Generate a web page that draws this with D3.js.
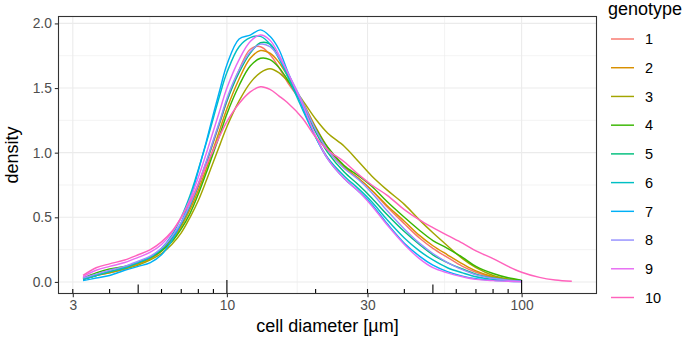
<!DOCTYPE html>
<html><head><meta charset="utf-8">
<script src="https://cdn.jsdelivr.net/npm/d3@7"></script>
<style>body{margin:0;background:#fff}svg{display:block;font-family:"Liberation Sans",Arial,sans-serif}</style>
</head><body><svg id="chart" width="685" height="340"></svg>
<script>
const genotypes = ["1","2","3","4","5","6","7","8","9","10"];
const colors = ["#F8766D","#D89000","#A3A500","#39B600","#00BF7D","#00BFC4","#00B0F6","#9590FF","#E76BF3","#FF62BC"];
const diameter = [3.25,3.6,4,4.5,5,5.5,6,6.5,7,7.5, 8,8.5,9,9.5,10,11,12,13,14,15, 16,18,20,22,25,28,31,35,40,45, 50,56,63,70,80,90,100,115,130,148];
const g1 = [0.02,0.05,0.07,0.10,0.14,0.18,0.24,0.33,0.44,0.58, 0.74,0.91,1.08,1.24,1.40,1.64,1.80,1.82,1.76,1.66, 1.55,1.38,1.18,1.02,0.88,0.80,0.71,0.58,0.45,0.34, 0.26,0.19,0.12,0.075,0.035,0.015,0.007,null,null,null];
const g2 = [0.02,0.05,0.08,0.11,0.14,0.18,0.24,0.32,0.43,0.56, 0.71,0.87,1.03,1.19,1.34,1.57,1.73,1.79,1.77,1.70, 1.60,1.40,1.20,1.04,0.89,0.80,0.71,0.59,0.47,0.36, 0.28,0.21,0.14,0.085,0.04,0.018,0.008,null,null,null];
const g3 = [0.02,0.05,0.07,0.10,0.13,0.17,0.22,0.29,0.38,0.50, 0.63,0.78,0.93,1.07,1.20,1.40,1.54,1.62,1.65,1.62, 1.56,1.41,1.26,1.15,1.05,0.93,0.82,0.71,0.60,0.48, 0.38,0.28,0.18,0.11,0.05,0.022,0.01,null,null,null];
const g4 = [0.03,0.07,0.10,0.12,0.15,0.19,0.24,0.31,0.41,0.53, 0.68,0.84,1.00,1.15,1.30,1.52,1.67,1.73,1.72,1.66, 1.57,1.38,1.19,1.04,0.90,0.82,0.74,0.62,0.50,0.40, 0.32,0.26,0.19,0.12,0.065,0.032,0.014,null,null,null];
const g5 = [0.02,0.05,0.08,0.11,0.15,0.19,0.25,0.34,0.45,0.59, 0.75,0.92,1.09,1.25,1.40,1.62,1.77,1.85,1.84,1.74, 1.62,1.38,1.16,1.00,0.85,0.75,0.65,0.52,0.39,0.29, 0.21,0.15,0.10,0.06,0.03,0.014,0.006,null,null,null];
const g6 = [0.02,0.05,0.08,0.11,0.15,0.19,0.26,0.36,0.50,0.67, 0.87,1.07,1.27,1.46,1.62,1.82,1.89,1.90,1.84,1.73, 1.60,1.34,1.12,0.96,0.82,0.72,0.62,0.48,0.34,0.24, 0.17,0.11,0.07,0.04,0.02,0.01,0.004,null,null,null];
const g7 = [0.01,0.03,0.05,0.09,0.12,0.15,0.21,0.32,0.46,0.64, 0.86,1.08,1.30,1.50,1.68,1.88,1.91,1.95,1.90,1.80, 1.64,1.36,1.12,0.95,0.80,0.70,0.60,0.45,0.30,0.20, 0.13,0.08,0.045,0.025,0.012,0.006,0.003,null,null,null];
const g8 = [0.03,0.06,0.09,0.12,0.16,0.20,0.26,0.35,0.46,0.60, 0.76,0.93,1.10,1.26,1.42,1.64,1.78,1.84,1.82,1.74, 1.63,1.40,1.18,1.02,0.88,0.79,0.69,0.55,0.41,0.30, 0.22,0.15,0.095,0.055,0.028,0.013,0.006,null,null,null];
const g9 = [0.04,0.09,0.12,0.15,0.19,0.23,0.29,0.38,0.50,0.64, 0.81,0.99,1.17,1.34,1.50,1.72,1.86,1.91,1.87,1.76, 1.63,1.38,1.13,0.95,0.80,0.70,0.59,0.44,0.29,0.18, 0.11,0.07,0.04,0.02,0.01,0.005,0.002,null,null,null];
const g10 = [0.05,0.11,0.14,0.17,0.21,0.25,0.31,0.39,0.50,0.62, 0.76,0.90,1.02,1.14,1.24,1.38,1.47,1.51,1.49,1.44, 1.39,1.27,1.12,1.02,0.93,0.83,0.75,0.67,0.56,0.48, 0.42,0.36,0.30,0.24,0.18,0.12,0.075,0.035,0.015,0.005];
const xTicks = [3,10,30,100];
const xMinor = [5.477,17.32,54.77];
const xLogTicks = [3,4,5,6,7,8,9,10,20,30,40,50,60,70,80,90,100];
const yTicks = [0,0.5,1,1.5,2];
const yMinor = [0.25,0.75,1.25,1.75];

const series = [g1,g2,g3,g4,g5,g6,g7,g8,g9,g10];
const svg = d3.select("#chart");
const L = 58.5, R = 596.5, T = 16.5, B = 293.5;
const x = d3.scaleLog().domain([2.683, 179.5]).range([L, R]);
const y = d3.scaleLinear().domain([-0.0895, 2.0535]).range([B, T]);

// grid
const grid = svg.append("g");
grid.selectAll(".ymin").data(yMinor).join("line").attr("x1",L).attr("x2",R)
  .attr("y1",d=>y(d)).attr("y2",d=>y(d)).attr("stroke","#EBEBEB").attr("stroke-width",0.6);
grid.selectAll(".xmin").data(xMinor).join("line").attr("y1",T).attr("y2",B)
  .attr("x1",d=>x(d)).attr("x2",d=>x(d)).attr("stroke","#EBEBEB").attr("stroke-width",0.6);
grid.selectAll(".ymaj").data(yTicks).join("line").attr("x1",L).attr("x2",R)
  .attr("y1",d=>y(d)).attr("y2",d=>y(d)).attr("stroke","#EBEBEB").attr("stroke-width",1.1);
grid.selectAll(".xmaj").data(xTicks).join("line").attr("y1",T).attr("y2",B)
  .attr("x1",d=>x(d)).attr("x2",d=>x(d)).attr("stroke","#EBEBEB").attr("stroke-width",1.1);

// lines
const line = d3.line().defined(d=>d[1]!=null).x(d=>x(d[0])).y(d=>y(d[1])).curve(d3.curveCatmullRom.alpha(0.5));
series.forEach((s,i)=>{
  const pts = diameter.map((v,j)=>[v,s[j]]);
  svg.append("path").datum(pts).attr("d",line).attr("fill","none")
    .attr("stroke",colors[i]).attr("stroke-width",1.45).attr("stroke-linejoin","round");
});

// log ticks
svg.append("g").selectAll("line").data(xLogTicks).join("line")
  .attr("x1",d=>x(d)).attr("x2",d=>x(d)).attr("y1",B)
  .attr("y2",d=>{const m=d/Math.pow(10,Math.floor(Math.log10(d)+1e-9)); const len = Math.abs(m-1)<1e-6?13.5:(Math.abs(m-5)<1e-6?9:4.5); return B-len;})
  .attr("stroke","#000").attr("stroke-width",1.1);

// panel border
svg.append("rect").attr("x",L).attr("y",T).attr("width",R-L).attr("height",B-T)
  .attr("fill","none").attr("stroke","#333333").attr("stroke-width",1.1);

// axes
const xAxis = svg.append("g").attr("transform",`translate(0,${B})`)
  .call(d3.axisBottom(x).tickValues(xTicks).tickFormat(d3.format("d")).tickSize(3.7).tickPadding(3));
const yAxis = svg.append("g").attr("transform",`translate(${L},0)`)
  .call(d3.axisLeft(y).tickValues(yTicks).tickFormat(d3.format(".1f")).tickSize(3.7).tickPadding(3));
[xAxis,yAxis].forEach(a=>{
  a.select(".domain").remove();
  a.selectAll(".tick line").attr("stroke","#333333").attr("stroke-width",1.1);
  a.selectAll(".tick text").attr("fill","#4D4D4D").attr("font-size",13.8).attr("font-family","Liberation Sans, Arial, sans-serif");
});

// titles
svg.append("text").attr("x",(L+R)/2).attr("y",332).attr("text-anchor","middle")
  .attr("font-size",18).attr("fill","#000").text("cell diameter [µm]");
svg.append("text").attr("transform",`translate(18,${(T+B)/2}) rotate(-90)`).attr("text-anchor","middle")
  .attr("font-size",18).attr("fill","#000").text("density");

// legend
const lg = svg.append("g");
lg.append("text").attr("x",608).attr("y",15).attr("font-size",18).attr("fill","#000").text("genotype");
const ly = d3.scalePoint().domain(genotypes).range([39, 297.5]);
genotypes.forEach((g,i)=>{
  lg.append("line").attr("x1",611).attr("x2",634).attr("y1",ly(g)).attr("y2",ly(g))
    .attr("stroke",colors[i]).attr("stroke-width",1.45);
  lg.append("text").attr("x",645).attr("y",ly(g)).attr("dy","0.36em")
    .attr("font-size",14.5).attr("fill","#000").text(g);
});
</script></body></html>
